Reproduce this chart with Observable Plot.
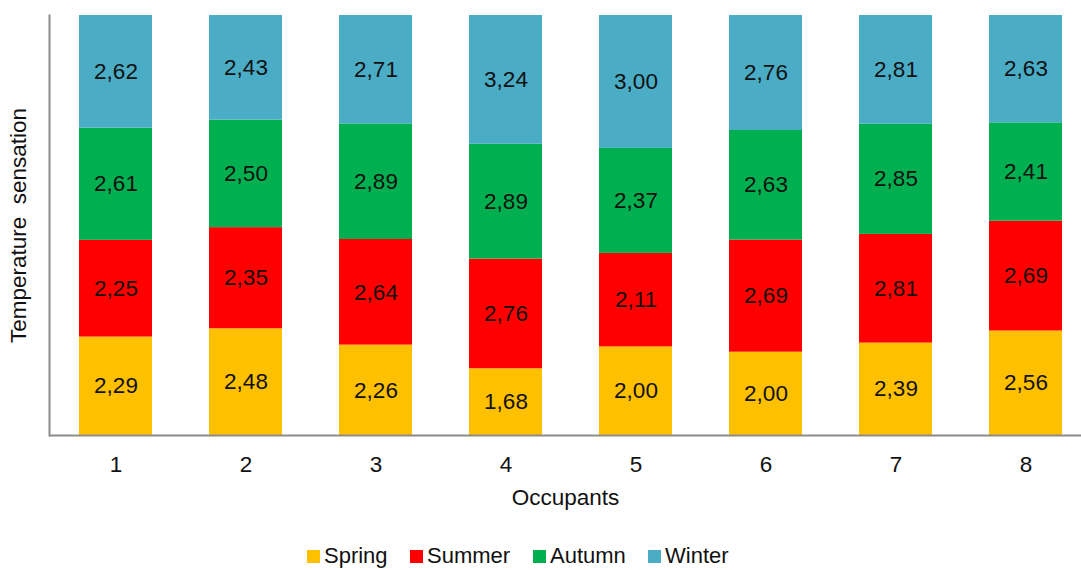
<!DOCTYPE html>
<html>
<head>
<meta charset="utf-8">
<script src="https://cdn.jsdelivr.net/npm/d3@7"></script>
<script src="https://cdn.jsdelivr.net/npm/@observablehq/plot@0.6"></script>
<style>
  html, body { margin: 0; padding: 0; background: #fff; overflow: hidden; }
  body { width: 1081px; height: 570px; font-family: "Liberation Sans", Arial, sans-serif; }
  svg { display: block; }
  #legend { position: relative; height: 35px; }
  .item { position: absolute; top: 8px; display: flex; align-items: center; font-size: 22px; line-height: 26px; color: #111; white-space: nowrap; }
  .sw { width: 13px; height: 13px; margin-right: 4px; }
</style>
</head>
<body>
<div id="chart"></div>
<div id="legend"></div>
<script>
const occupants = ["1", "2", "3", "4", "5", "6", "7", "8"];
const seasons = ["Spring", "Summer", "Autumn", "Winter"];
const colors = ["#FFC000", "#FF0000", "#00B050", "#4BACC6"];
const spring = [2.29, 2.48, 2.26, 1.68, 2.00, 2.00, 2.39, 2.56];
const summer = [2.25, 2.35, 2.64, 2.76, 2.11, 2.69, 2.81, 2.69];
const autumn = [2.61, 2.50, 2.89, 2.89, 2.37, 2.63, 2.85, 2.41];
const winter = [2.62, 2.43, 2.71, 3.24, 3.00, 2.76, 2.81, 2.63];
const series = [spring, summer, autumn, winter];

const data = [];
seasons.forEach((s, si) => {
  occupants.forEach((o, oi) => data.push({occupant: o, season: s, value: series[si][oi]}));
});

const fmt = v => v.toFixed(2).replace(".", ",");
const H = 535;
const FS = 22.5;

const chart = Plot.plot({
  width: 1081,
  height: H,
  marginTop: 15,
  marginBottom: H - 435,
  marginLeft: 49,
  marginRight: 0,
  style: {fontFamily: "'Liberation Sans', Arial, sans-serif", background: "#fff"},
  x: {domain: occupants, range: [49, 1091], paddingInner: 0.44, paddingOuter: 0.22, align: 0.5},
  y: {axis: null},
  color: {domain: seasons, range: colors},
  marks: [
    Plot.barY(data, Plot.stackY({offset: "normalize", order: seasons}, {x: "occupant", y: "value", fill: "season", z: "season"})),
    Plot.text(data, Plot.stackY({offset: "normalize", order: seasons}, {x: "occupant", y: "value", z: "season", text: d => fmt(d.value), fontSize: FS, fill: "#111"})),
    Plot.axisX({tickSize: 0, tickPadding: 21, fontSize: FS, label: null, color: "#111"}),
    Plot.ruleY([0], {stroke: "#8c8c8c", strokeWidth: 2}),
    Plot.frame({anchor: "left", stroke: "#8c8c8c", strokeWidth: 2}),
    Plot.text(["Occupants"], {frameAnchor: "bottom", dy: 62, fontSize: FS, fill: "#111", lineAnchor: "middle"}),
    Plot.text(["Temperature  sensation"], {frameAnchor: "left", rotate: -90, dx: -31, fontSize: FS, fill: "#111", lineAnchor: "middle", textAnchor: "middle"})
  ]
});
document.getElementById("chart").appendChild(chart);

const lefts = [307, 410, 533, 648];
const legend = document.getElementById("legend");
seasons.forEach((s, i) => {
  const item = document.createElement("div");
  item.className = "item";
  item.style.left = lefts[i] + "px";
  const sw = document.createElement("span");
  sw.className = "sw";
  sw.style.background = colors[i];
  const t = document.createElement("span");
  t.textContent = s;
  item.appendChild(sw);
  item.appendChild(t);
  legend.appendChild(item);
});
</script>
</body>
</html>
